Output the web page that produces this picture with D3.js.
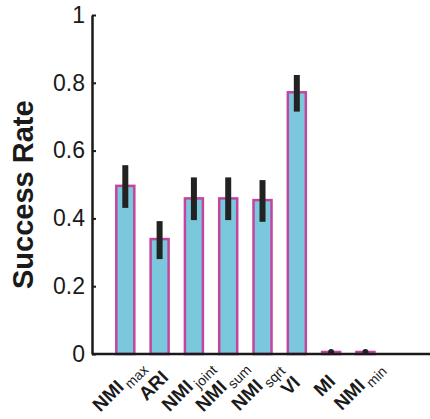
<!DOCTYPE html>
<html>
<head>
<meta charset="utf-8">
<script src="https://cdn.jsdelivr.net/npm/d3@7"></script>
<style>
  body { margin: 0; background: #fff; }
  svg { display: block; font-family: "Liberation Sans", Arial, sans-serif; }
</style>
</head>
<body>
<div id="chart"></div>
<script>
// data
const labelMain = ["NMI", "ARI", "NMI", "NMI", "NMI", "VI", "MI", "NMI"];
const labelSub = ["max", "", "joint", "sum", "sqrt", "", "", "min"];
const rate = [0.496, 0.339, 0.459, 0.459, 0.454, 0.772, 0.006, 0.006];
const errLow = [0.431, 0.280, 0.395, 0.395, 0.390, 0.715, 0.006, 0.006];
const errHigh = [0.557, 0.392, 0.521, 0.521, 0.513, 0.823, 0.006, 0.006];
const yTicks = [0, 0.2, 0.4, 0.6, 0.8, 1];

const width = 430, height = 419;

const svg = d3.select("#chart")
    .append("svg")
    .attr("width", width)
    .attr("height", height);

const x = d3.scaleLinear()
    .domain([0, 9.9])
    .range([91, 430.6]);

const y = d3.scaleLinear()
    .domain([0, 1])
    .range([354, 15]);

// bars
svg.selectAll(".bar")
    .data(rate)
    .join("rect")
    .attr("class", "bar")
    .attr("x", (d, i) => x(i + 1) - 9)
    .attr("width", 18)
    .attr("y", d => y(d))
    .attr("height", d => y(0) - y(d))
    .attr("fill", "#7bc8dc")
    .attr("stroke", "#c2469f")
    .attr("stroke-width", 2.5);

// error bars
svg.selectAll(".err")
    .data(rate)
    .join("line")
    .attr("class", "err")
    .attr("x1", (d, i) => x(i + 1))
    .attr("x2", (d, i) => x(i + 1))
    .attr("y1", (d, i) => y(errHigh[i]))
    .attr("y2", (d, i) => y(errLow[i]))
    .attr("stroke", "#222")
    .attr("stroke-width", 6);

// tiny errors show up as a dot
svg.selectAll(".errdot")
    .data(rate.map((d, i) => i).filter(i => errHigh[i] - errLow[i] < 0.01))
    .join("circle")
    .attr("class", "errdot")
    .attr("cx", i => x(i + 1))
    .attr("cy", i => y(rate[i]))
    .attr("r", 3)
    .attr("fill", "#222");

// y axis
const yAxis = svg.append("g")
    .attr("transform", `translate(${x(0) + 1},0)`)
    .call(d3.axisLeft(y)
        .tickValues(yTicks)
        .tickFormat(d => d === 0 ? "0" : d === 1 ? "1" : d3.format(".1f")(d))
        .tickSizeInner(-4)
        .tickSizeOuter(0)
        .tickPadding(7));
yAxis.select(".domain").attr("stroke", "#1a1a1a").attr("stroke-width", 2.5);
yAxis.selectAll(".tick line").attr("stroke", "#1a1a1a").attr("stroke-width", 2);
yAxis.selectAll(".tick text")
    .attr("font-size", 23)
    .attr("fill", "#1a1a1a")
    .attr("font-family", "Liberation Sans, Arial, sans-serif");

// x axis line
svg.append("line")
    .attr("x1", x(0) + 1)
    .attr("x2", width)
    .attr("y1", y(0))
    .attr("y2", y(0))
    .attr("stroke", "#1a1a1a")
    .attr("stroke-width", 2.5);

// x labels, rotated 45 deg around their own anchor point
labelMain.forEach(function (name, i) {
    const cx = Math.round(x(i + 1) - 2), cy = 390;
    const t = svg.append("text")
        .attr("x", cx)
        .attr("y", cy)
        .attr("transform", "rotate(-45 " + cx + " " + cy + ")")
        .attr("text-anchor", "middle")
        .attr("fill", "#1a1a1a");
    t.append("tspan")
        .attr("font-size", 19)
        .attr("font-weight", "bold")
        .text(name);
    if (labelSub[i]) {
        t.append("tspan")
            .attr("font-size", 14)
            .attr("dy", 5)
            .attr("dx", 3)
            .text(labelSub[i]);
    }
});

// y title
svg.append("text")
    .attr("transform", `translate(33,${y(0.47)}) rotate(-90)`)
    .attr("text-anchor", "middle")
    .attr("font-size", 29)
    .attr("font-weight", "bold")
    .attr("fill", "#1a1a1a")
    .text("Success Rate");
</script>
</body>
</html>
